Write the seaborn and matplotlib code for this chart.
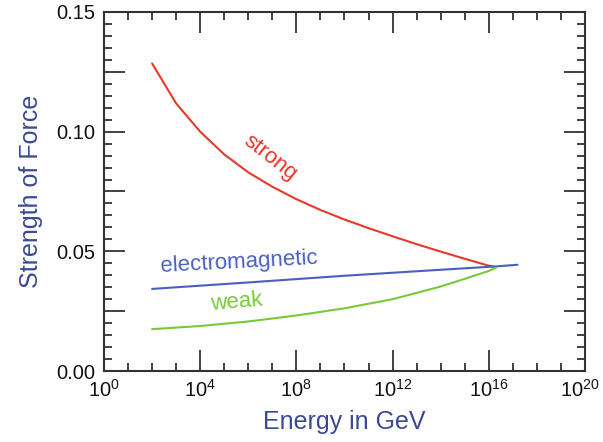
import numpy as np
import pandas as pd
import matplotlib
matplotlib.use('Agg')
import matplotlib.pyplot as plt
import matplotlib.ticker as mticker
import seaborn as sns

# Valores (expoente de 10 da energia em GeV);
strong_logE = [2, 3, 4, 5, 6, 7, 8, 9, 10, 11, 12, 13, 14, 15, 16, 16.3]
strong_val = [0.1285, 0.1118, 0.1000, 0.0905, 0.0830, 0.0770, 0.0718, 0.0673, 0.0633,
              0.0597, 0.0563, 0.0530, 0.0499, 0.0469, 0.0440, 0.0434]

em_logE = [2, 6, 10, 14, 16.3, 17.2]
em_val = [0.0343, 0.037, 0.0398, 0.0423, 0.0437, 0.0444]

weak_logE = [2, 4, 6, 8, 10, 12, 14, 15, 16, 16.3]
weak_val = [0.0175, 0.0188, 0.0207, 0.0232, 0.0262, 0.0300, 0.0353, 0.0385, 0.0418, 0.0432]

x_tick_exp = [0, 4, 8, 12, 16, 20]

red = '#e8382a'
blue = '#4a5fc1'
green = '#78c93a'
label_color = '#3b4a96'

df = pd.concat([
    pd.DataFrame({'E': 10.0 ** np.array(strong_logE), 'alpha': strong_val, 'forca': 'strong'}),
    pd.DataFrame({'E': 10.0 ** np.array(em_logE), 'alpha': em_val, 'forca': 'electromagnetic'}),
    pd.DataFrame({'E': 10.0 ** np.array(weak_logE), 'alpha': weak_val, 'forca': 'weak'}),
])

sns.set_style('ticks')
plt.rcParams['font.family'] = ['Liberation Sans', 'DejaVu Sans']
plt.rcParams['mathtext.fontset'] = 'custom'
plt.rcParams['mathtext.rm'] = 'Liberation Sans'
plt.rcParams['mathtext.default'] = 'regular'

fig = plt.figure(figsize=(6.03, 4.42), dpi=100)
ax = fig.add_axes([0.1725, 0.1606, 0.7975, 0.8123])

sns.lineplot(data=df, x='E', y='alpha', hue='forca',
             palette={'strong': red, 'electromagnetic': blue, 'weak': green},
             linewidth=1.5, legend=False, ax=ax, sort=False, estimator=None)

ax.set_xscale('log')
ax.set_xlim(1, 1e20)
ax.set_ylim(0, 0.15)

# Eixo x: rótulos a cada 4 décadas, marcas menores a cada década;
# o último rótulo (10^20) é desenhado à parte, um pouco deslocado para não sair da figura;
ax.xaxis.set_major_locator(mticker.FixedLocator([10.0 ** k for k in x_tick_exp]))
ax.xaxis.set_major_formatter(mticker.FuncFormatter(
    lambda v, p: r'$10^{%d}$' % round(np.log10(v)) if round(np.log10(v)) != x_tick_exp[-1] else ''))
ax.xaxis.set_minor_locator(mticker.FixedLocator([10.0 ** k for k in range(0, 21)]))
ax.xaxis.set_minor_formatter(mticker.NullFormatter())
ax.annotate(r'$10^{%d}$' % x_tick_exp[-1], xy=(10.0 ** x_tick_exp[-1], 0),
            xycoords=('data', 'axes fraction'), xytext=(-4, -6), textcoords='offset points',
            ha='center', va='top', fontsize=14.5, color='#111111', annotation_clip=False)

# Eixo y: marcas maiores a cada 0.025, rótulo a cada 0.05;
ax.yaxis.set_major_locator(mticker.MultipleLocator(0.025))
ax.yaxis.set_major_formatter(mticker.FuncFormatter(
    lambda v, p: '%.2f' % v if abs(round(v / 0.05) * 0.05 - v) < 1e-6 else ''))
ax.yaxis.set_minor_locator(mticker.MultipleLocator(0.005))

ax.tick_params(which='both', direction='in', top=True, right=True, color='#333333', width=1.3)
ax.tick_params(which='major', length=15, labelsize=14.5, pad=6, labelcolor='#111111')
ax.tick_params(which='minor', length=6)
for s in ax.spines.values():
    s.set_color('#333333')
    s.set_linewidth(1.5)

ax.set_xlabel('Energy in GeV', fontsize=18, color=label_color, labelpad=6)
ax.set_ylabel('Strength of Force', fontsize=18, color=label_color, labelpad=10)

ax.text(10 ** 6.9, 0.089, 'strong', color=red, fontsize=16, rotation=-38,
        ha='center', va='center')
ax.text(10 ** 5.6, 0.0455, 'electromagnetic', color=blue, fontsize=16, rotation=3,
        ha='center', va='center')
ax.text(10 ** 5.5, 0.0287, 'weak', color=green, fontsize=16, rotation=5,
        ha='center', va='center')

plt.savefig('out.png', dpi=100)
